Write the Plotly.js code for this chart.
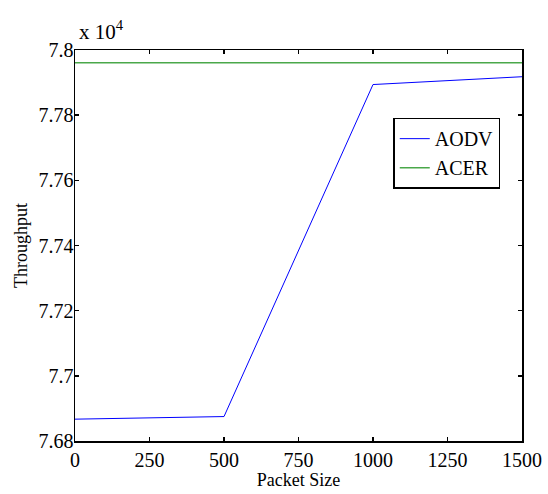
<!DOCTYPE html>
<html>
<head>
<meta charset="utf-8">
<script src="https://cdn.plot.ly/plotly-3.0.1.min.js"></script>
<style>html,body{margin:0;padding:0;background:#fff;}</style>
</head>
<body>
<div id="chart" style="width:548px;height:494px;"></div>
<script>
const packetSize = [0, 500, 1000, 1500];
const aodv = [76867, 76875, 77894, 77918];
const acer = [77961, 77961, 77961, 77961];
const seriesNames = ["AODV", "ACER"];
const xTicks = [0, 250, 500, 750, 1000, 1250, 1500];
const yTickPos = [76800, 77000, 77200, 77400, 77600, 77800, 78000];
const yTickLabels = ["7.68", "7.7", "7.72", "7.74", "7.76", "7.78", "7.8"];

const font = "Liberation Serif, Times New Roman, serif";

const traces = [
  {x: packetSize, y: aodv, name: seriesNames[0], mode: "lines", line: {color: "#0000ff", width: 1}},
  {x: packetSize, y: acer, name: seriesNames[1], mode: "lines", line: {color: "#4aa84a", width: 1.5}}
];

const axisCommon = {
  showline: true, linecolor: "#000", linewidth: 1.5, mirror: "ticks",
  ticks: "inside", ticklen: 4, tickcolor: "#000", tickwidth: 1.5,
  showgrid: false, zeroline: false,
  tickfont: {family: font, size: 20, color: "#000"}
};

const layout = {
  width: 548, height: 494,
  margin: {l: 75, r: 26, t: 50, b: 53},
  paper_bgcolor: "#fff", plot_bgcolor: "#fff",
  showlegend: true,
  legend: {
    x: 0.712, y: 0.827, xanchor: "left", yanchor: "top",
    bordercolor: "#000", borderwidth: 1.5, bgcolor: "#fff",
    font: {family: font, size: 20, color: "#000"},
    tracegroupgap: 10
  },
  xaxis: Object.assign({}, axisCommon, {
    range: [0, 1500], tickvals: xTicks, ticktext: xTicks.map(String),
    ticklabelstandoff: 0,
    title: {text: "Packet Size", font: {family: font, size: 18, color: "#000"}, standoff: 2}
  }),
  yaxis: Object.assign({}, axisCommon, {
    range: [76800, 78000], tickvals: yTickPos, ticktext: yTickLabels,
    ticklabelstandoff: -4,
    title: {text: "Throughput", font: {family: font, size: 18, color: "#000"}, standoff: 6}
  }),
  annotations: [{
    xref: "paper", yref: "paper", x: 0, y: 1, xanchor: "left", yanchor: "bottom",
    text: "x 10<sup>4</sup>", showarrow: false, yshift: 4, xshift: 2,
    font: {family: font, size: 21, color: "#000"}
  }]
};

Plotly.newPlot("chart", traces, layout, {displayModeBar: false, staticPlot: true});
</script>
</body>
</html>
